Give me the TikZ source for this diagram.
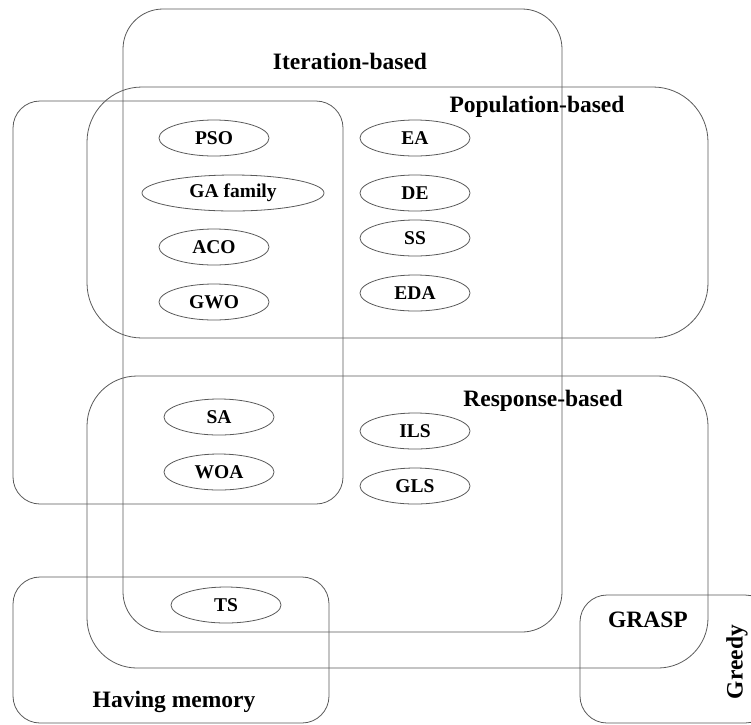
\documentclass[tikz,border=0pt]{standalone}
\usepackage{fontspec}
\setmainfont{Liberation Serif}
\usetikzlibrary{shapes.geometric}
\tikzset{
  x=1pt, y=-1pt,
  grp/.style={draw=black!65, line width=0.8pt},
  alg/.style={draw=black!65, line width=0.8pt, ellipse, inner sep=0pt,
    minimum width=110pt, minimum height=36pt,
    font=\fontsize{19.5}{19.5}\selectfont\bfseries},
  lbl/.style={inner sep=0pt, font=\fontsize{23.5}{23.5}\selectfont\bfseries}
}
\begin{document}
\begin{tikzpicture}
\useasboundingbox (0,0) rectangle (751,724);
\clip (0,0) rectangle (751,724);
% group boxes
\draw[grp, rounded corners=40pt] (123,9) rectangle (562,632);
\draw[grp, rounded corners=55pt] (87,87) rectangle (708,338);
\draw[grp, rounded corners=27pt] (13,101) rectangle (343,504);
\draw[grp, rounded corners=50pt] (87,376) rectangle (708,668);
\draw[grp, rounded corners=27pt] (13,577) rectangle (329,723);
\draw[grp, rounded corners=27pt] (580,595) rectangle (772,723);
% labels
\node[lbl] (iter) at (350,61) {Iteration-based};
\node[lbl] (pop) at (537,107) {Population-based};
\node[lbl] (resp) at (543,401) {Response-based};
\node[lbl] (mem) at (174,702) {Having memory};
\node[lbl] (grasp) at (648,620) {GRASP};
\node[lbl, rotate=90] (greedy) at (737,662) {Greedy};
% algorithms
\node[alg] (pso) at (214,138) {PSO};
\node[alg, minimum width=182pt] (ga) at (233,193) {GA family};
\node[alg] (aco) at (214,247) {ACO};
\node[alg] (gwo) at (214,302) {GWO};
\node[alg] (ea) at (415,138) {EA};
\node[alg] (de) at (415,193) {DE};
\node[alg] (ss) at (415,238) {SS};
\node[alg] (eda) at (415,293) {EDA};
\node[alg] (sa) at (219,417) {SA};
\node[alg] (woa) at (219,472) {WOA};
\node[alg] (ils) at (415,431) {ILS};
\node[alg] (gls) at (415,486) {GLS};
\node[alg] (ts) at (226,605) {TS};
\end{tikzpicture}
\end{document}
